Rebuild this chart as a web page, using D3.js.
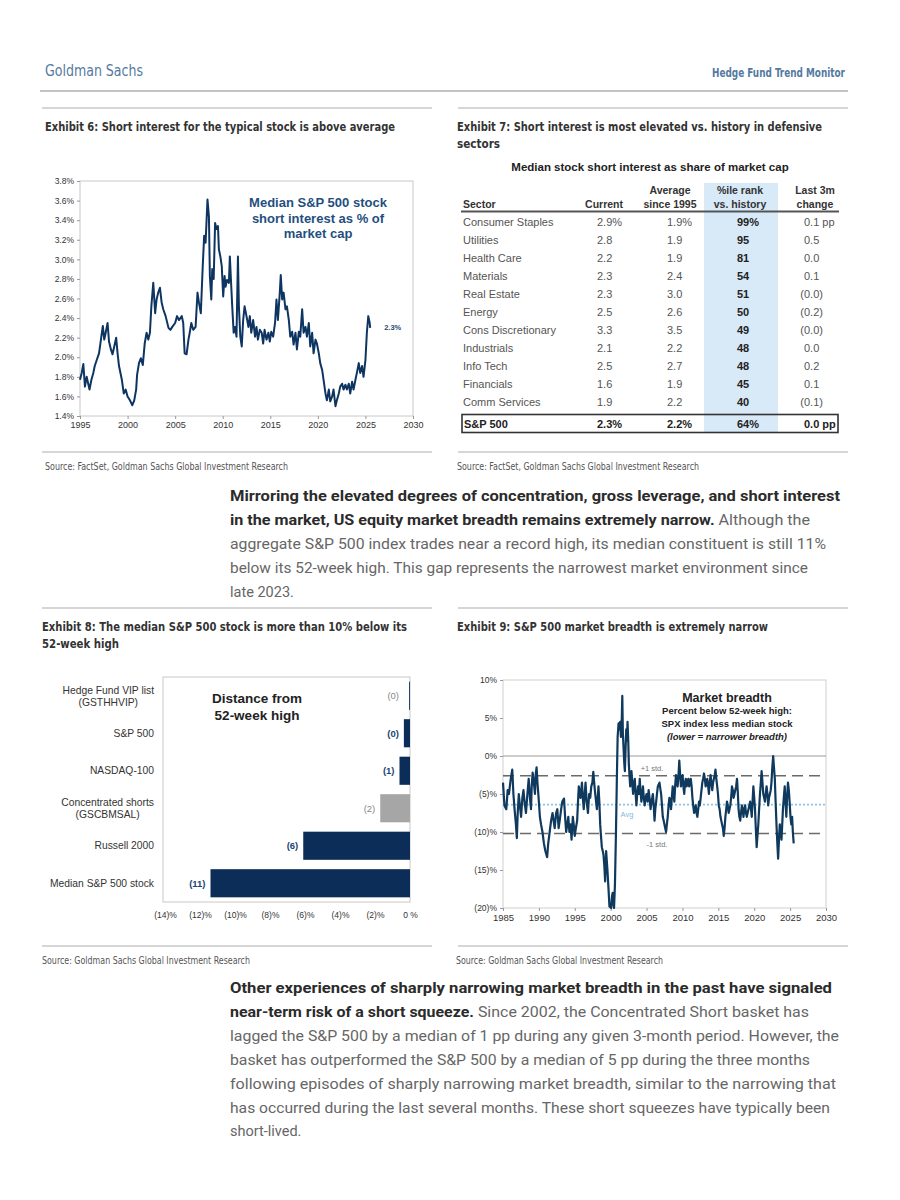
<!doctype html>
<html lang="en">
<head>
<meta charset="utf-8">
<title>Hedge Fund Trend Monitor</title>
<style>
  body { margin: 0; background: #fff; }
  svg { display: block; }
  .narrow { font-family: "Liberation Sans Narrow", "DejaVu Sans Condensed", "Arial Narrow", sans-serif; }
  .arial { font-family: "Liberation Sans", Arial, sans-serif; }
  .copy { font-family: Roboto, "Liberation Sans", sans-serif; }
  .axis text { font-family: "Liberation Sans", Arial, sans-serif; fill: #333; }
  .axis path { display: none; }
  .axis line { stroke: #999; }
</style>
</head>
<body>
<div id="page"></div>
<script src="https://cdn.jsdelivr.net/npm/d3@7"></script>
<script>
// Exhibit 6: median S&P 500 stock short interest, % of market cap
var siSeries = [
  [1995.0,1.77],[1995.18,1.84],[1995.35,1.93],[1995.52,1.70],[1995.7,1.80],[1996.0,1.67],[1996.2,1.77],
  [1996.4,1.84],[1996.55,1.91],[1996.75,1.97],[1997.0,2.04],[1997.2,2.18],[1997.4,2.32],[1997.55,2.18],
  [1997.7,2.25],[1997.9,2.35],[1998.05,2.16],[1998.25,2.08],[1998.42,2.03],[1998.6,2.11],[1998.8,2.20],
  [1998.95,2.04],[1999.1,1.91],[1999.4,1.77],[1999.6,1.63],[1999.8,1.67],[2000.0,1.60],[2000.25,1.56],
  [2000.5,1.51],[2000.7,1.56],[2000.9,1.67],[2001.0,1.82],[2001.2,1.94],[2001.4,1.99],[2001.6,1.92],
  [2001.8,2.14],[2002.0,2.25],[2002.18,2.18],[2002.35,2.25],[2002.5,2.52],[2002.7,2.76],[2002.9,2.45],
  [2003.05,2.59],[2003.22,2.66],[2003.4,2.71],[2003.58,2.56],[2003.75,2.49],[2004.0,2.42],[2004.3,2.30],
  [2004.5,2.28],[2004.7,2.31],[2005.0,2.35],[2005.2,2.42],[2005.4,2.38],[2005.7,2.42],[2005.85,2.35],
  [2006.0,2.04],[2006.2,2.03],[2006.4,2.18],[2006.55,2.26],[2006.7,2.35],[2006.9,2.28],[2007.15,2.31],
  [2007.35,2.66],[2007.5,2.56],[2007.7,2.45],[2007.9,2.93],[2008.05,3.24],[2008.2,3.17],[2008.4,3.61],
  [2008.55,3.44],[2008.65,2.83],[2008.8,2.59],[2008.9,2.90],[2009.05,2.80],[2009.2,3.37],[2009.35,3.31],
  [2009.5,3.34],[2009.6,3.10],[2009.75,3.03],[2009.9,2.93],[2010.05,2.62],[2010.2,2.83],[2010.3,2.72],
  [2010.45,2.79],[2010.65,2.76],[2010.75,3.03],[2010.9,2.72],[2011.0,2.52],[2011.15,2.25],[2011.3,2.31],
  [2011.45,2.21],[2011.6,3.03],[2011.7,2.52],[2011.85,2.21],[2012.0,2.11],[2012.15,2.38],[2012.3,2.52],
  [2012.5,2.42],[2012.7,2.31],[2012.85,2.42],[2013.0,2.25],[2013.2,2.38],[2013.4,2.21],[2013.55,2.31],
  [2013.7,2.18],[2013.9,2.28],[2014.1,2.25],[2014.25,2.14],[2014.4,2.28],[2014.6,2.18],[2014.8,2.25],
  [2014.95,2.16],[2015.1,2.26],[2015.3,2.21],[2015.5,2.35],[2015.65,2.59],[2015.8,2.38],[2016.0,2.66],
  [2016.1,2.84],[2016.25,2.59],[2016.4,2.66],[2016.6,2.49],[2016.75,2.52],[2016.95,2.38],[2017.1,2.21],
  [2017.3,2.26],[2017.45,2.13],[2017.65,2.25],[2017.8,2.08],[2018.0,2.26],[2018.15,2.21],[2018.35,2.49],
  [2018.5,2.25],[2018.7,2.31],[2018.85,2.21],[2019.05,2.35],[2019.2,2.11],[2019.4,2.25],[2019.55,2.04],
  [2019.75,2.18],[2019.9,2.14],[2020.1,2.04],[2020.25,1.94],[2020.45,1.87],[2020.6,1.77],[2020.8,1.63],
  [2020.95,1.56],[2021.15,1.67],[2021.3,1.55],[2021.5,1.60],[2021.65,1.67],[2021.85,1.50],[2022.0,1.56],
  [2022.2,1.63],[2022.35,1.70],[2022.55,1.73],[2022.7,1.67],[2022.9,1.72],[2023.05,1.67],[2023.25,1.73],
  [2023.4,1.63],[2023.6,1.75],[2023.75,1.67],[2023.95,1.77],[2024.1,1.84],[2024.3,1.94],[2024.45,1.84],
  [2024.65,1.91],[2024.8,1.80],[2025.0,1.97],[2025.15,2.25],[2025.3,2.42],[2025.45,2.35],[2025.5,2.30]
];
var siTicks = [1.4, 1.6, 1.8, 2.0, 2.2, 2.4, 2.6, 2.8, 3.0, 3.2, 3.4, 3.6, 3.8];
var siYears = [1995, 2000, 2005, 2010, 2015, 2020, 2025, 2030];
var siLast = "2.3%";

// Exhibit 7: sector short interest table
var sectors = ["Consumer Staples", "Utilities", "Health Care", "Materials", "Real Estate", "Energy",
  "Cons Discretionary", "Industrials", "Info Tech", "Financials", "Comm Services"];
var siCurrent = [2.9, 2.8, 2.2, 2.3, 2.3, 2.5, 3.3, 2.1, 2.5, 1.6, 1.9];
var siAverage = [1.9, 1.9, 1.9, 2.4, 3.0, 2.6, 3.5, 2.2, 2.7, 1.9, 2.2];
var siRank = [99, 95, 81, 54, 51, 50, 49, 48, 48, 45, 40];
var siChange = [0.1, 0.5, 0.0, 0.1, -0.0, -0.2, -0.0, 0.0, 0.2, 0.1, -0.1];
var spxRow = ["S&P 500", 2.3, 2.2, 64, 0.0];

// Exhibit 8: distance from 52-week high (%)
var distNames = [["Hedge Fund VIP list", "(GSTHHVIP)"], ["S&P 500"], ["NASDAQ-100"],
  ["Concentrated shorts", "(GSCBMSAL)"], ["Russell 2000"], ["Median S&P 500 stock"]];
var distValues = [-0.05, -0.35, -0.6, -1.7, -6.1, -11.4];
var distTicks = [-14, -12, -10, -8, -6, -4, -2, 0];

// Exhibit 9: SPX index less median stock, % below 52-week high
var breadthSeries = [
  [1985.0,-3.5],[1985.2,-6.5],[1985.46,-7],[1985.65,-4.5],[1985.83,-5],[1986.05,-3.2],[1986.29,-1.8],
  [1986.45,-5],[1986.61,-7],[1986.8,-9],[1986.93,-10.8],[1987.05,-7.5],[1987.2,-5],[1987.35,-6.5],
  [1987.52,-8],[1987.7,-5.5],[1987.85,-4.5],[1988.0,-6],[1988.2,-7.5],[1988.4,-5],[1988.58,-3],
  [1988.75,-5.5],[1988.9,-7],[1989.0,-4],[1989.13,-2.2],[1989.3,-3.5],[1989.45,-5],[1989.55,-2.5],
  [1989.68,-1.5],[1989.8,-3.5],[1989.96,-5.5],[1990.14,-8],[1990.3,-9],[1990.5,-10],[1990.7,-11.5],
  [1990.9,-12.5],[1991.15,-13.3],[1991.3,-11.5],[1991.5,-10],[1991.7,-8.5],[1991.9,-7.5],[1992.05,-8.5],
  [1992.2,-9.5],[1992.4,-7.5],[1992.57,-7],[1992.75,-9.5],[1992.9,-8.5],[1993.1,-7],[1993.26,-6],
  [1993.5,-5.6],[1993.65,-8],[1993.8,-10],[1993.95,-9],[1994.1,-8],[1994.25,-10],[1994.4,-9],
  [1994.55,-11],[1994.73,-8],[1994.85,-9],[1995.0,-10.5],[1995.15,-9.5],[1995.33,-8.5],[1995.45,-6],
  [1995.56,-4],[1995.7,-4.8],[1995.8,-5.5],[1995.9,-4.5],[1996.0,-3.5],[1996.12,-5.5],[1996.25,-7],
  [1996.38,-5],[1996.5,-3.5],[1996.65,-6],[1996.84,-7.5],[1997.0,-5],[1997.15,-5.5],[1997.3,-4],
  [1997.45,-3.5],[1997.58,-2.1],[1997.7,-3.5],[1997.85,-5],[1998.08,-7],[1998.2,-5.5],[1998.3,-4],
  [1998.42,-6],[1998.54,-9],[1998.65,-10.5],[1998.77,-12],[1998.9,-12.5],[1999.0,-13],[1999.12,-14.5],
  [1999.23,-16.5],[1999.37,-12.5],[1999.55,-15],[1999.7,-17.5],[1999.83,-19.8],[2000.06,-20],
  [2000.18,-18.5],[2000.28,-18],[2000.38,-19.5],[2000.47,-20],[2000.6,-16.8],[2000.74,-10],
  [2000.88,-2],[2000.97,2.5],[2001.1,4.3],[2001.2,3.5],[2001.32,4.5],[2001.43,2.5],[2001.55,5],
  [2001.62,7.9],[2001.7,3],[2001.8,1],[2001.9,-1],[2001.98,-2],[2002.08,1],[2002.17,3.5],
  [2002.27,2],[2002.35,4.5],[2002.45,2],[2002.53,-1],[2002.62,-2.5],[2002.72,-4],[2002.8,-2.5],
  [2002.9,-2],[2003.0,-3.5],[2003.13,-5],[2003.25,-3.5],[2003.36,-3],[2003.48,-5],[2003.59,-6.5],
  [2003.7,-5],[2003.82,-4],[2003.95,-5],[2004.05,-3],[2004.15,-4.5],[2004.28,-6],[2004.4,-5],
  [2004.5,-4],[2004.62,-5.5],[2004.74,-6.5],[2004.87,-5.5],[2005.0,-5],[2005.15,-6],[2005.29,-4.5],
  [2005.42,-5.5],[2005.56,-7],[2005.7,-6],[2005.88,-5],[2006.0,-6.5],[2006.11,-8.5],[2006.22,-7],
  [2006.34,-6],[2006.45,-5],[2006.57,-4],[2006.68,-3.8],[2006.8,-3.5],[2006.9,-4.2],[2007.03,-5],
  [2007.15,-6.5],[2007.26,-8],[2007.38,-8.5],[2007.49,-9],[2007.6,-9.5],[2007.72,-10],[2007.83,-9],
  [2007.95,-8],[2008.07,-6.5],[2008.18,-5.5],[2008.3,-6],[2008.41,-7],[2008.52,-5.5],[2008.64,-4],
  [2008.75,-5],[2008.87,-6],[2008.98,-4],[2009.1,-2.5],[2009.2,-3.5],[2009.33,-4],[2009.45,-2.5],
  [2009.56,-0.6],[2009.68,-2.5],[2009.79,-4],[2009.9,-3],[2010.02,-2.5],[2010.13,-4],[2010.25,-5],
  [2010.36,-3.5],[2010.47,-3],[2010.58,-4],[2010.7,-3.5],[2010.82,-3],[2010.93,-4],[2011.05,-3.5],
  [2011.16,-3],[2011.28,-4],[2011.39,-5.5],[2011.5,-6.5],[2011.62,-7.5],[2011.73,-7],[2011.85,-6.5],
  [2011.96,-7.5],[2012.08,-8],[2012.2,-7],[2012.31,-6],[2012.42,-6.5],[2012.54,-5.5],[2012.65,-4.5],
  [2012.77,-3.5],[2012.88,-3],[2013.0,-2.3],[2013.12,-3],[2013.23,-4],[2013.35,-3.5],[2013.46,-3],
  [2013.58,-4],[2013.69,-5],[2013.8,-3.5],[2013.92,-2.5],[2014.03,-3.5],[2014.15,-4.5],[2014.27,-3.5],
  [2014.38,-3],[2014.5,-2.5],[2014.6,-1.8],[2014.72,-3],[2014.84,-4],[2014.95,-5],[2015.06,-6.5],
  [2015.18,-7],[2015.3,-8],[2015.41,-8.5],[2015.52,-9],[2015.64,-9.5],[2015.75,-10.5],[2015.87,-9.5],
  [2015.98,-8],[2016.1,-7],[2016.2,-6],[2016.32,-6.5],[2016.44,-7.5],[2016.55,-7],[2016.67,-6.5],
  [2016.78,-5.5],[2016.9,-4],[2017.02,-4.5],[2017.13,-5.5],[2017.25,-5],[2017.36,-4.5],[2017.48,-4],
  [2017.6,-3],[2017.7,-4.5],[2017.82,-7],[2017.93,-8],[2018.05,-8.5],[2018.16,-7.5],[2018.28,-6.5],
  [2018.4,-7],[2018.5,-8],[2018.62,-7],[2018.74,-6.5],[2018.85,-7.5],[2018.97,-8],[2019.08,-7.5],
  [2019.2,-7],[2019.32,-6.5],[2019.43,-6],[2019.55,-7],[2019.66,-8],[2019.77,-6],[2019.88,-4],
  [2020.0,-5.5],[2020.11,-7],[2020.22,-9.5],[2020.34,-12],[2020.45,-10.5],[2020.57,-9],[2020.68,-7],
  [2020.8,-5],[2020.92,-3.5],[2021.03,-2],[2021.15,-3.5],[2021.26,-5],[2021.38,-5.5],[2021.49,-6],
  [2021.6,-5],[2021.72,-4],[2021.84,-5],[2021.95,-6.5],[2022.06,-5.5],[2022.18,-5],[2022.3,-4.5],
  [2022.4,-3.5],[2022.52,-1.5],[2022.64,0],[2022.75,-1.5],[2022.87,-3],[2022.98,-6],[2023.1,-9],
  [2023.22,-11.5],[2023.33,-13.5],[2023.45,-11],[2023.56,-9],[2023.68,-10],[2023.8,-11],[2023.9,-9],
  [2024.0,-7],[2024.12,-5.5],[2024.25,-4],[2024.36,-6],[2024.47,-8],[2024.58,-5.5],[2024.7,-3.5],
  [2024.82,-4.5],[2024.93,-6],[2025.05,-8],[2025.16,-9],[2025.28,-8],[2025.38,-10],[2025.5,-11.5]
];
var breadthTicks = [10, 5, 0, -5, -10, -15, -20];
var breadthYears = [1985, 1990, 1995, 2000, 2005, 2010, 2015, 2020, 2025, 2030];
var breadthAvg = -6.4, breadthStd = 3.8;

var svg = d3.select("#page").append("svg")
    .attr("width", 900)
    .attr("height", 1200);
svg.append("rect").attr("width", 900).attr("height", 1200).attr("fill", "#fff");

var rule = function(x1, x2, y, w, c) {
  svg.append("line").attr("x1", x1).attr("x2", x2).attr("y1", y).attr("y2", y)
     .attr("stroke", c || "#c8c8c8").attr("stroke-width", w || 1.5);
};
var txt = function(g, x, y, s, size, opts) {
  opts = opts || {};
  var t = g.append("text").attr("x", x).attr("y", y)
    .attr("class", opts.cls || "arial")
    .attr("font-size", size)
    .attr("font-weight", opts.bold ? "bold" : null)
    .attr("font-style", opts.italic ? "italic" : null)
    .attr("text-anchor", opts.anchor || "start")
    .attr("fill", opts.fill || "#333")
    .text(s);
  // squeeze condensed text to the width it takes in the report
  if (opts.width) t.attr("textLength", opts.width).attr("lengthAdjust", "spacingAndGlyphs");
  return t;
};
var title = function(x, y, s, w) {
  txt(svg, x, y, s, 12.5, {cls: "narrow", bold: true, fill: "#333", width: w});
};
var source = function(x, y, s, w) {
  txt(svg, x, y, s, 10, {cls: "narrow", fill: "#555", width: w});
};

// page header
txt(svg, 45, 76, "Goldman Sachs", 16, {cls: "narrow", fill: "#5479a0", width: 98});
txt(svg, 712, 77, "Hedge Fund Trend Monitor", 12.5, {cls: "narrow", bold: true, fill: "#5479a0", width: 133});
rule(40, 848, 91, 2, "#c4c4c4");

// exhibit titles, rules and sources
rule(42, 432, 108); rule(458, 848, 108);
title(45, 131, "Exhibit 6: Short interest for the typical stock is above average", 350);
title(457, 131, "Exhibit 7: Short interest is most elevated vs. history in defensive", 365);
title(457, 148, "sectors", 43);
rule(42, 432, 452); rule(458, 848, 452);
source(45, 470, "Source: FactSet, Goldman Sachs Global Investment Research", 243);
source(457, 470, "Source: FactSet, Goldman Sachs Global Investment Research", 242);

rule(42, 432, 608); rule(458, 848, 608);
title(42, 631, "Exhibit 8: The median S&P 500 stock is more than 10% below its", 365);
title(42, 648, "52-week high", 77);
title(457, 631, "Exhibit 9: S&P 500 market breadth is extremely narrow", 311);
rule(42, 432, 946); rule(458, 848, 946);
source(42, 964, "Source: Goldman Sachs Global Investment Research", 208);
source(456, 964, "Source: Goldman Sachs Global Investment Research", 207);

// body copy
var paragraph = function(lines, y0) {
  lines.forEach(function(l, i) {
    var t = svg.append("text").attr("class", "copy").attr("x", 230).attr("y", y0 + i * 23.9)
      .attr("font-size", 14.5);
    if (l[0]) t.append("tspan").attr("font-weight", "bold").attr("fill", "#2b2b2b").text(l[0]);
    if (l[1]) t.append("tspan").attr("fill", "#666").text(l[1]);
    if (l[2]) t.attr("textLength", l[2] - 230).attr("lengthAdjust", "spacingAndGlyphs");
  });
};
paragraph([
  ["Mirroring the elevated degrees of concentration, gross leverage, and short interest", "", 840],
  ["in the market, US equity market breadth remains extremely narrow.", " Although the", 810],
  ["", "aggregate S&P 500 index trades near a record high, its median constituent is still 11%", 826],
  ["", "below its 52-week high. This gap represents the narrowest market environment since", 808],
  ["", "late 2023."]
], 501);
paragraph([
  ["Other experiences of sharply narrowing market breadth in the past have signaled", "", 832],
  ["near-term risk of a short squeeze.", " Since 2002, the Concentrated Short basket has", 809],
  ["", "lagged the S&P 500 by a median of 1 pp during any given 3-month period. However, the", 839],
  ["", "basket has outperformed the S&P 500 by a median of 5 pp during the three months", 810],
  ["", "following episodes of sharply narrowing market breadth, similar to the narrowing that", 836],
  ["", "has occurred during the last several months. These short squeezes have typically been", 830],
  ["", "short-lived."]
], 993);

// ---- Exhibit 6 line chart
(function() {
  var x = d3.scaleLinear().domain([1995, 2030]).range([80, 413]);
  var y = d3.scaleLinear().domain([1.4, 3.8]).range([416, 181]);
  var g = svg.append("g");
  g.append("rect").attr("x", 80).attr("y", 181).attr("width", 333).attr("height", 235)
    .attr("fill", "none").attr("stroke", "#c8c8c8");
  g.append("g").attr("class", "axis").attr("transform", "translate(80,0)")
    .call(d3.axisLeft(y).tickValues(siTicks).tickSize(3).tickFormat(function(d) { return d3.format(".1f")(d) + "%"; }))
    .selectAll("text").attr("font-size", 8.5);
  g.append("g").attr("class", "axis").attr("transform", "translate(0,416)")
    .call(d3.axisBottom(x).tickValues(siYears).tickSize(3).tickFormat(d3.format("d")))
    .selectAll("text").attr("font-size", 9);
  var line = d3.line().x(function(d) { return x(d[0]); }).y(function(d) { return y(d[1]); });
  g.append("path").datum(siSeries).attr("d", line).attr("fill", "none")
    .attr("stroke", "#0e3561").attr("stroke-width", 2).attr("stroke-linejoin", "round");
  var last = siSeries[siSeries.length - 1];
  txt(g, x(last[0]) + 14, y(last[1]) + 2, siLast, 7.5, {bold: true, fill: "#2a4a6e"});
  ["Median S&P 500 stock", "short interest as % of", "market cap"].forEach(function(s, i) {
    txt(g, 318, 207 + i * 15.5, s, 13, {bold: true, anchor: "middle", fill: "#1f4f80"});
  });
})();

// ---- Exhibit 7 table
(function() {
  var g = svg.append("g");
  g.append("rect").attr("x", 704).attr("y", 183).attr("width", 74).attr("height", 250).attr("fill", "#d8e9f8");
  txt(g, 650, 171, "Median stock short interest as share of market cap", 11.5, {bold: true, anchor: "middle", fill: "#222"});
  var h = {fill: "#333", bold: true};
  var hs = 10.5;
  txt(g, 670, 194, "Average", hs, Object.assign({anchor: "middle"}, h));
  txt(g, 740, 194, "%ile rank", hs, Object.assign({anchor: "middle"}, h));
  txt(g, 815, 194, "Last 3m", hs, Object.assign({anchor: "middle"}, h));
  txt(g, 463, 208, "Sector", hs, h);
  txt(g, 623, 208, "Current", hs, Object.assign({anchor: "end"}, h));
  txt(g, 670, 208, "since 1995", hs, Object.assign({anchor: "middle"}, h));
  txt(g, 740, 208, "vs. history", hs, Object.assign({anchor: "middle"}, h));
  txt(g, 815, 208, "change", hs, Object.assign({anchor: "middle"}, h));
  g.append("line").attr("x1", 461).attr("x2", 839).attr("y1", 211.5).attr("y2", 211.5)
    .attr("stroke", "#555").attr("stroke-width", 2);
  var neg = function(v) { return v < 0 || Object.is(v, -0); };
  var chg = function(v, i) { return neg(v) ? "(" + Math.abs(v).toFixed(1) + ")" : v.toFixed(1) + (i === 0 ? " pp" : ""); };
  var row = d3.scaleBand().domain(d3.range(sectors.length)).range([213, 411]);
  var fs = 11;
  sectors.forEach(function(s, i) {
    var yy = row(i) + row.bandwidth() / 2 + 4;
    var c = {fill: "#555"};
    txt(g, 463, yy, s, fs, c);
    txt(g, 597, yy, siCurrent[i].toFixed(1) + (i === 0 ? "%" : ""), fs, c);
    txt(g, 667, yy, siAverage[i].toFixed(1) + (i === 0 ? "%" : ""), fs, c);
    txt(g, 737, yy, siRank[i] + (i === 0 ? "%" : ""), fs, {fill: "#222", bold: true});
    txt(g, neg(siChange[i]) ? 800.3 : 804, yy, chg(siChange[i], i), fs, c);
  });
  g.append("rect").attr("x", 462).attr("y", 414.5).attr("width", 376).attr("height", 18)
    .attr("fill", "none").attr("stroke", "#333").attr("stroke-width", 1.6);
  var b = {fill: "#222", bold: true};
  txt(g, 464, 427.5, spxRow[0], fs, b);
  txt(g, 597, 427.5, spxRow[1].toFixed(1) + "%", fs, b);
  txt(g, 667, 427.5, spxRow[2].toFixed(1) + "%", fs, b);
  txt(g, 737, 427.5, spxRow[3] + "%", fs, b);
  txt(g, 804, 427.5, spxRow[4].toFixed(1) + " pp", fs, b);
})();

// ---- Exhibit 8 bar chart
(function() {
  var x = d3.scaleLinear().domain([-14, 0]).range([165, 410]);
  var y = d3.scaleBand().domain(d3.range(distValues.length)).range([677, 902]).paddingInner(0.25).paddingOuter(0.125);
  var g = svg.append("g");
  g.append("rect").attr("x", 163).attr("y", 677).attr("width", 247).attr("height", 225)
    .attr("fill", "none").attr("stroke", "#c8c8c8");
  var grey = function(i) { return distNames[i][0] === "Concentrated shorts"; };
  g.selectAll("rect.bar").data(distValues).enter().append("rect").attr("class", "bar")
    .attr("x", function(d) { return x(d); })
    .attr("y", function(d, i) { return y(i); })
    .attr("width", function(d) { return x(0) - x(d); })
    .attr("height", y.bandwidth())
    .attr("fill", function(d, i) { return grey(i) ? "#a6a6a6" : "#0b2d57"; });
  distValues.forEach(function(v, i) {
    var cy = y(i) + y.bandwidth() / 2;
    var gray = grey(i) || i === 0;
    txt(g, Math.min(x(v), 404) - 5, cy + 3.5, "(" + Math.round(-v) + ")", 9.5, {anchor: "end", fill: gray ? "#888" : "#1d4670", bold: !gray});
    var names = distNames[i];
    if (names.length === 1) {
      txt(g, 154, cy + 3.5, names[0], 10.3, {anchor: "end"});
    } else {
      var t0 = txt(g, 154, cy - 2, names[0], 10.3, {anchor: "end"});
      var w0 = t0.node().getComputedTextLength();
      txt(g, 154 - w0 / 2, cy + 10, names[1], 10.3, {anchor: "middle"});
    }
  });
  g.append("g").attr("class", "axis").attr("transform", "translate(0,902)")
    .call(d3.axisBottom(x).tickValues(distTicks).tickSize(0).tickPadding(10)
      .tickFormat(function(d) { return d < 0 ? "(" + (-d) + ")%" : "0 %"; }))
    .selectAll("text").attr("font-size", 8.5);
  txt(g, 257, 703, "Distance from", 13.5, {bold: true, anchor: "middle", fill: "#222"});
  txt(g, 257, 720, "52-week high", 13.5, {bold: true, anchor: "middle", fill: "#222"});
})();

// ---- Exhibit 9 line chart
(function() {
  var x = d3.scaleLinear().domain([1985, 2030]).range([503, 826]);
  var y = d3.scaleLinear().domain([-20, 10]).range([908, 680]);
  var g = svg.append("g");
  g.append("rect").attr("x", 503).attr("y", 680).attr("width", 323).attr("height", 228)
    .attr("fill", "none").attr("stroke", "#cfcfcf");
  g.append("g").attr("class", "axis").attr("transform", "translate(503,0)")
    .call(d3.axisLeft(y).tickValues(breadthTicks).tickSize(3)
      .tickFormat(function(d) { return d < 0 ? "(" + (-d) + ")%" : d + "%"; }))
    .selectAll("text").attr("font-size", 8.5);
  g.append("g").attr("class", "axis").attr("transform", "translate(0,908)")
    .call(d3.axisBottom(x).tickValues(breadthYears).tickSize(3).tickFormat(d3.format("d")))
    .selectAll("text").attr("font-size", 9.5);
  var hline = function(v, stroke, dash, w) {
    g.append("line").attr("x1", 503).attr("x2", 826).attr("y1", y(v)).attr("y2", y(v))
      .attr("stroke", stroke).attr("stroke-dasharray", dash).attr("stroke-width", w);
  };
  hline(0, "#9a9a9a", null, 1);
  hline(breadthAvg + breadthStd, "#6a6a6a", "11,6", 1.6);
  hline(breadthAvg - breadthStd, "#6a6a6a", "11,6", 1.6);
  hline(breadthAvg, "#8cc4e8", "2,2", 1.6);
  var line = d3.line().x(function(d) { return x(d[0]); }).y(function(d) { return y(d[1]); });
  g.append("path").datum(breadthSeries).attr("d", line).attr("fill", "none")
    .attr("stroke", "#0f3a5e").attr("stroke-width", 2.2).attr("stroke-linejoin", "round");
  txt(g, 652, y(breadthAvg + breadthStd) - 5, "+1 std.", 7.5, {anchor: "middle", fill: "#777"});
  txt(g, 627, y(breadthAvg) + 12, "Avg", 7.5, {anchor: "middle", fill: "#7fb8e0"});
  txt(g, 657, y(breadthAvg - breadthStd) + 13, "-1 std.", 7.5, {anchor: "middle", fill: "#777"});
  txt(g, 727, 701.5, "Market breadth", 12.5, {bold: true, anchor: "middle", fill: "#222"});
  txt(g, 727, 713.5, "Percent below 52-week high:", 9.5, {bold: true, anchor: "middle", fill: "#222"});
  txt(g, 727, 726.5, "SPX index less median stock", 9.5, {bold: true, anchor: "middle", fill: "#222"});
  txt(g, 727, 740, "(lower = narrower breadth)", 9.5, {bold: true, italic: true, anchor: "middle", fill: "#222"});
})();
</script>
</body>
</html>
